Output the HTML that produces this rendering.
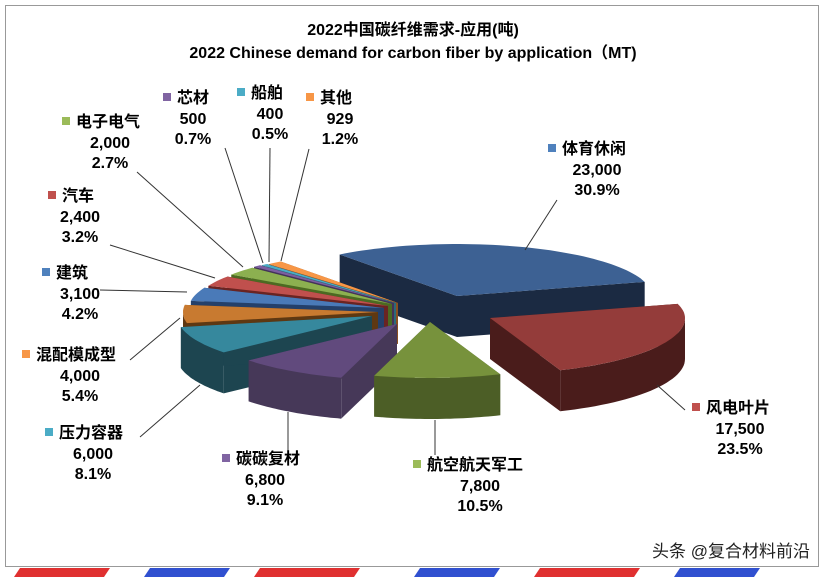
<!DOCTYPE html>
<html><head><meta charset="utf-8"><style>
body{margin:0;width:827px;height:577px;overflow:hidden;background:#fff;font-family:"Liberation Sans","Noto Sans CJK SC",sans-serif}
svg text{font-family:"Liberation Sans","Noto Sans CJK SC",sans-serif;font-weight:bold}
</style></head><body>
<svg id="c" width="827" height="577">
<rect x="0" y="567" width="827" height="10" fill="#fff"/>
<g>
<polygon points="20,568 110,568 104,577 14,577" fill="#e03030"/>
<polygon points="150,568 230,568 224,577 144,577" fill="#3050d0"/>
<polygon points="260,568 360,568 354,577 254,577" fill="#e03030"/>
<polygon points="420,568 500,568 494,577 414,577" fill="#3050d0"/>
<polygon points="540,568 640,568 634,577 534,577" fill="#e03030"/>
<polygon points="680,568 760,568 754,577 674,577" fill="#3050d0"/>
</g>
<rect x="5.5" y="5.5" width="813" height="561" fill="#fff" stroke="#999"/>
<text x="413" y="35" font-size="16" text-anchor="middle">2022中国碳纤维需求-应用(吨)</text>
<text x="413" y="58" font-size="16" text-anchor="middle">2022 Chinese demand for carbon fiber by application（MT)</text>
<g id="pie"></g>
<g id="labels"></g>
<text x="810" y="557" font-size="17" text-anchor="end" fill="#222" style="font-weight:normal">头条 @复合材料前沿</text>
</svg>
<script>
const categories=["体育休闲","风电叶片","航空航天军工","碳碳复材","压力容器","混配模成型","建筑","汽车","电子电气","芯材","船舶","其他"];
const values=[23000,17500,7800,6800,6000,4000,3100,2400,2000,500,400,929];
const pctLabels=["30.9%","23.5%","10.5%","9.1%","8.1%","5.4%","4.2%","3.2%","2.7%","0.7%","0.5%","1.2%"];
const valueLabels=["23,000","17,500","7,800","6,800","6,000","4,000","3,100","2,400","2,000","500","400","929"];
const topColors=["#3d6193","#943c3a","#77923c","#614a7d","#36889d","#c87a30","#4a7ab8","#c0504d","#8cb050","#7b5fa0","#4bacc6","#f79646"];
const sideColors=["#1b2a42","#4a1c1b","#4c5e26","#463858","#1d4550","#5e3812","#24406a","#6a2422","#4c6a22","#43335a","#2a6a7a","#8a5020"];
const markerColors=["#4f81bd","#c0504d","#9bbb59","#8064a2","#4bacc6","#f79646","#4f81bd","#c0504d","#9bbb59","#8064a2","#4bacc6","#f79646"];
// explode offsets (px, styling)
const offs=[[67,-20],[100,2],[40,6],[7,8],[-18,0],[-12,-4],[-6,-8],[-2,-10],[2,-12],[4,-13],[6,-13],[8,-13]];
// label layout: marker x, marker y, value centre x
const lay=[[548,148,597],[692,407,740],[413,464,480],[222,458,265],[45,432,93],[22,354,80],[42,272,80],[48,195,80],[62,121,110],[163,97,193],[237,92,270],[306,97,340]];
const leaders=[[557,200,525,250],[685,410,657,385],[435,455,435,420],[288,452,288,412],[140,437,200,385],[130,360,180,318],[100,290,187,292],[110,245,215,278],[137,172,243,267],[225,148,263,263],[270,148,269,262],[309,149,281,261]];
const NS="http://www.w3.org/2000/svg";
const CX=390,CY=316,RX=195,RYB=52,RYF=56,D=41,START=233;
const total=values.reduce((a,b)=>a+b,0);
const pie=document.getElementById('pie'),lab=document.getElementById('labels');
function pt(cx,cy,a,dy){const r=a*Math.PI/180;const s=Math.sin(r);return [cx+RX*Math.cos(r),cy+(s>0?RYF:RYB)*s+(dy||0)];}
function mk(tag,attrs,parent){const e=document.createElementNS(NS,tag);for(const k in attrs)e.setAttribute(k,attrs[k]);parent.appendChild(e);return e;}
let slices=[],acc=START;
values.forEach((v,i)=>{const a0=acc,a1=acc+v/total*360;acc=a1;slices.push({i,a0,a1});});
const order=slices.slice().sort((p,q)=>{const dp=Math.sin(((p.a0+p.a1)/2)*Math.PI/180)*RYF+offs[p.i][1];const dq=Math.sin(((q.a0+q.a1)/2)*Math.PI/180)*RYF+offs[q.i][1];return dp-dq;});
order.forEach(s=>{
 const i=s.i,cx=CX+offs[i][0],cy=CY+offs[i][1];
 const g=mk('g',{},pie);
 
 
 const p0=pt(cx,cy,s.a0),p1=pt(cx,cy,s.a1);
 [p0,p1].forEach(p=>{mk('polygon',{points:`${cx},${cy} ${p[0]},${p[1]} ${p[0]},${p[1]+D} ${cx},${cy+D}`,fill:sideColors[i]},g);});
 for(let k=-360;k<=360;k+=360){
  const lo=Math.max(s.a0,k),hi=Math.min(s.a1,k+180);
  if(hi>lo){let d='';const n=30;
   for(let j=0;j<=n;j++){const p=pt(cx,cy,lo+(hi-lo)*j/n);d+=(j?'L':'M')+p[0].toFixed(1)+','+p[1].toFixed(1);}
   for(let j=n;j>=0;j--){const p=pt(cx,cy,lo+(hi-lo)*j/n,D);d+='L'+p[0].toFixed(1)+','+p[1].toFixed(1);}
   mk('path',{d:d+'Z',fill:sideColors[i]},g);}
 }
 let d=`M${cx},${cy}`;const n=Math.max(4,Math.ceil((s.a1-s.a0)/2));
 for(let j=0;j<=n;j++){const p=pt(cx,cy,s.a0+(s.a1-s.a0)*j/n);d+='L'+p[0].toFixed(1)+','+p[1].toFixed(1);}
 mk('path',{d:d+'Z',fill:topColors[i]},g);
});
categories.forEach((c,i)=>{
 const [mx,my,vx]=lay[i];
 const g=mk('g',{},lab);
 
 
 const L=leaders[i];
 mk('polyline',{points:`${L[0]},${L[1]} ${L[2]},${L[3]}`,stroke:'#333','stroke-width':1,fill:'none'},g);
 mk('rect',{x:mx,y:my-4,width:8,height:8,fill:markerColors[i]},g);
 const t=mk('text',{x:mx+14,y:my+6,'font-size':16},g);t.textContent=c;
 const t2=mk('text',{x:vx,y:my+27,'font-size':16,'text-anchor':'middle'},g);t2.textContent=valueLabels[i];
 const t3=mk('text',{x:vx,y:my+47,'font-size':16,'text-anchor':'middle'},g);t3.textContent=pctLabels[i];
});
</script>
</body></html>
